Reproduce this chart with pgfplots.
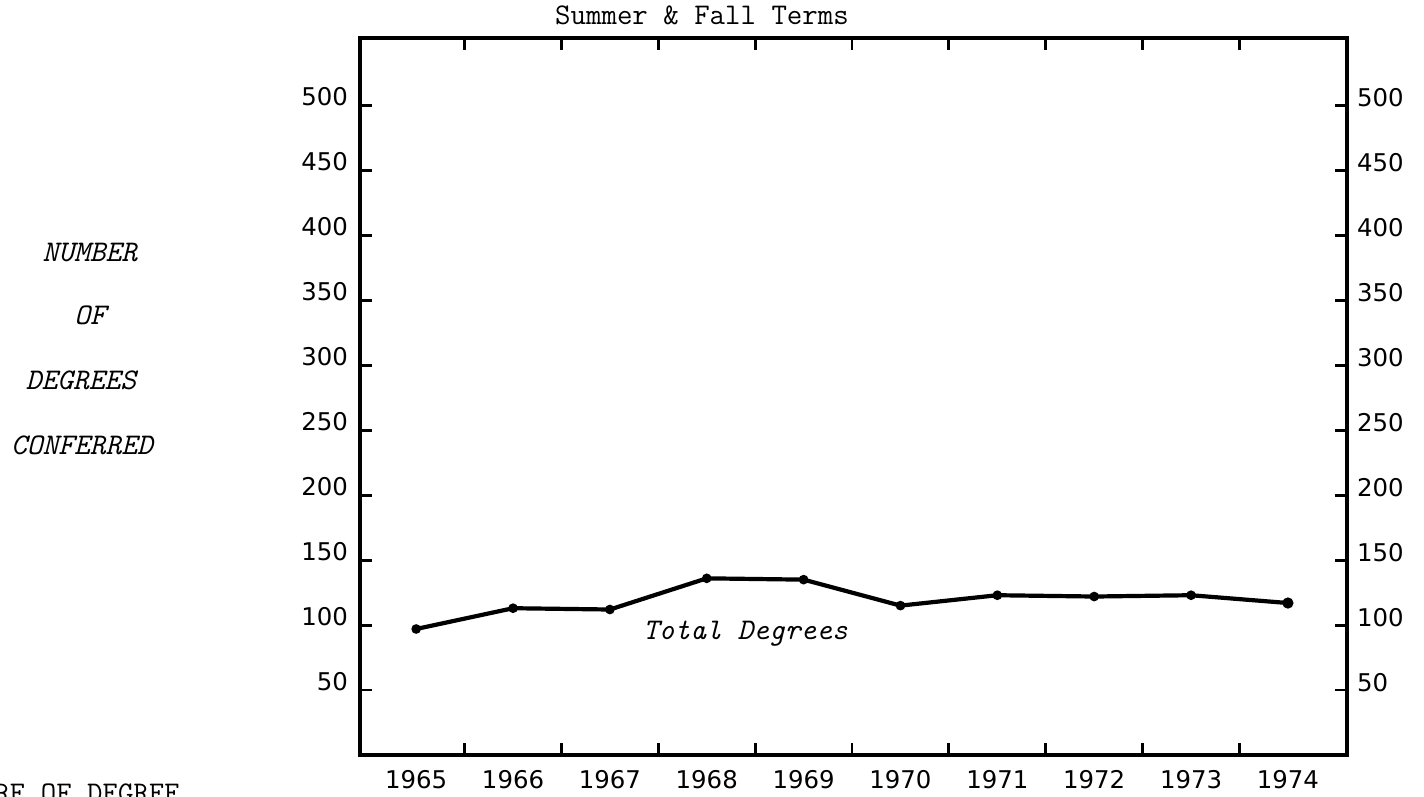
\documentclass[border=0pt]{standalone}
\usepackage{fontspec}
\usepackage{pgfplots}
\pgfplotsset{compat=1.18}
\newfontfamily\tickfont{DejaVu Sans}

% degrees conferred, summer & fall terms
\pgfplotstableread{
year deg
1965 97
1966 113
1967 112
1968 136
1969 135
1970 115
1971 123
1972 122
1973 123
1974 117
}\degrees

\pgfplotsset{
  frame/.style={at={(180pt,21pt)}, anchor=south west, scale only axis,
    width=493.5pt, height=358.5pt,
    xmin=1964.42, xmax=1974.61, ymin=0, ymax=552, clip=false},
  ticks/.style={ticklabel style={font=\tickfont\fontsize{12.2}{14}\selectfont},
    /pgf/number format/assume math mode=true},
}

\begin{document}
\begin{tikzpicture}
\path[use as bounding box] (0,0) rectangle (712pt,398.5pt);

\begin{axis}[frame, ticks,
  axis line style={line width=2pt},
  tick align=inside, major tick length=6pt,
  tick style={line width=1.4pt, black},
  xtick={1965.5,1966.5,...,1973.5}, xticklabels={},
  extra x ticks={1965,1966,...,1974},
  extra x tick labels={1965,1966,1967,1968,1969,1970,1971,1972,1973,1974},
  extra x tick style={tick style={draw=none}},
  xticklabel style={yshift=-4pt},
  ytick={50,100,...,500},
  yticklabel style={anchor=base east, xshift=-2.5pt}]
\addplot[black, line width=2.1pt, mark=*, mark size=1.3pt] table[x=year, y=deg] {\degrees};
\addplot[black, only marks, mark=*, mark size=2.6pt] coordinates {(1974,117)};
\end{axis}

% right-hand tick labels
\begin{axis}[frame, ticks, hide x axis,
  axis line style={draw=none}, major tick length=0pt,
  ytick={50,100,...,500}, yticklabel pos=right,
  yticklabel style={anchor=base west, xshift=1.5pt, yshift=-0.5pt}]
\end{axis}

\node[font=\ttfamily\fontsize{15}{17}\selectfont, anchor=base] at (351pt,386pt) {Summer \& Fall Terms};
\node[font=\ttfamily\itshape\fontsize{15}{18}\selectfont, anchor=base] at (372.75pt,78.5pt) {Total Degrees};

\begin{scope}[every node/.style={font=\ttfamily\itshape\fontsize{15}{18}\selectfont, anchor=base}]
\node at (45pt,267.5pt) {NUMBER};
\node at (45pt,236pt) {OF};
\node at (40.5pt,203.5pt) {DEGREES};
\node at (41pt,171pt) {CONFERRED};
\end{scope}

\node[font=\ttfamily\fontsize{15}{18}\selectfont, anchor=base east] at (93.5pt,-3pt) {NATURE OF DEGREE};
\end{tikzpicture}
\end{document}
